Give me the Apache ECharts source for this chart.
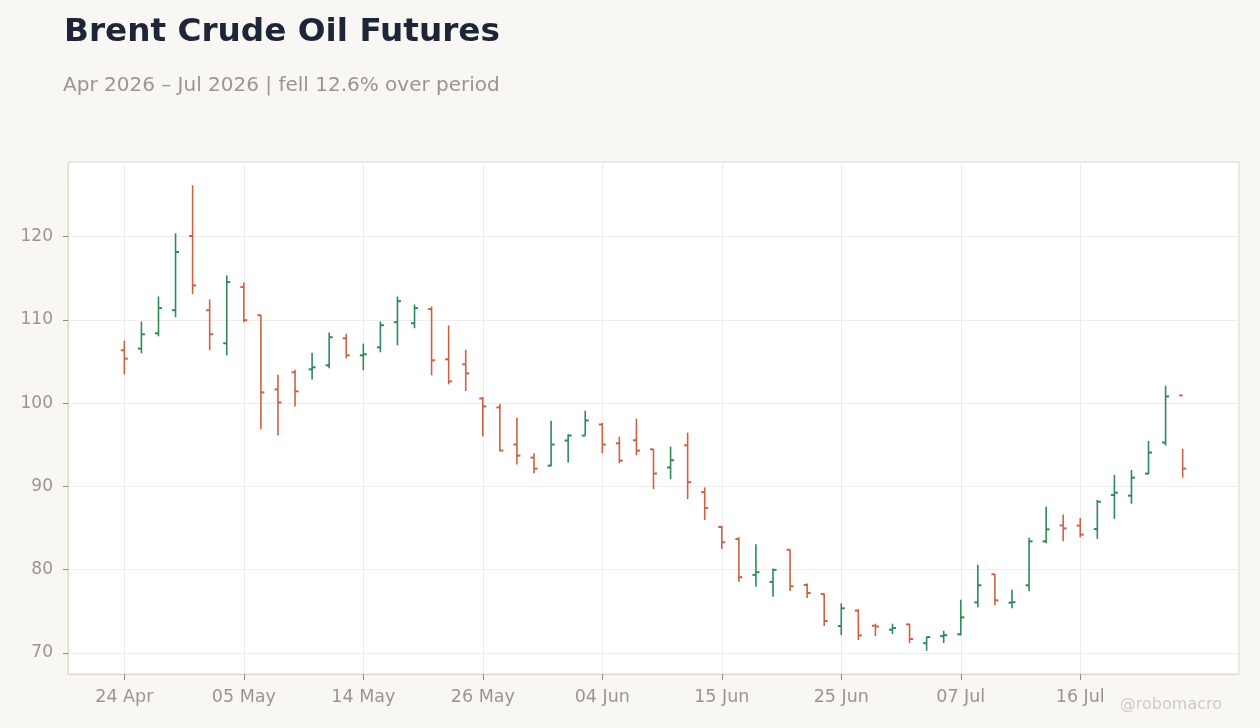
<!DOCTYPE html>
<html>
<head>
<meta charset="utf-8">
<script src="https://cdn.jsdelivr.net/npm/echarts@6.0.0/dist/echarts.min.js"></script>
<style>
  html, body { margin: 0; padding: 0; background: #f8f7f4; }
  #chart { width: 1260px; height: 728px; }
</style>
</head>
<body>
<div id="chart"></div>
<script>
// trading days
const dates = [
  '24 Apr', '27 Apr', '28 Apr', '29 Apr', '30 Apr', '01 May', '04 May',
  '05 May', '06 May', '07 May', '08 May', '11 May', '12 May', '13 May',
  '14 May', '15 May', '18 May', '19 May', '20 May', '21 May', '22 May',
  '26 May', '27 May', '28 May', '29 May', '01 Jun', '02 Jun', '03 Jun',
  '04 Jun', '05 Jun', '08 Jun', '09 Jun', '10 Jun', '11 Jun', '12 Jun',
  '15 Jun', '16 Jun', '17 Jun', '18 Jun', '22 Jun', '23 Jun', '24 Jun',
  '25 Jun', '26 Jun', '29 Jun', '30 Jun', '01 Jul', '02 Jul', '06 Jul',
  '07 Jul', '08 Jul', '09 Jul', '10 Jul', '13 Jul', '14 Jul', '15 Jul',
  '16 Jul', '17 Jul', '20 Jul', '21 Jul', '22 Jul', '23 Jul', '24 Jul'
];

const opens = [
  106.35, 106.55, 108.39, 111.16, 120.08, 111.16, 107.19,
  113.94, 110.56, 101.65, 103.70, 104.06, 104.54, 107.79,
  105.74, 106.70, 109.72, 109.60, 111.29, 105.26, 104.66,
  100.56, 99.48, 95.02, 93.45, 92.49, 95.50, 96.10,
  97.43, 95.17, 95.53, 94.45, 92.26, 94.93, 89.30,
  85.11, 83.67, 79.36, 78.52, 82.37, 78.15, 77.07,
  73.21, 75.06, 73.25, 72.77, 73.41, 71.16, 72.00,
  72.22, 76.06, 79.43, 76.02, 78.11, 83.39, 85.31,
  85.28, 84.86, 88.96, 88.88, 91.53, 95.26, 100.92
];
const highs = [
  107.50, 109.80, 112.81, 120.40, 126.18, 112.45, 115.34,
  114.50, 110.60, 103.41, 104.00, 106.06, 108.47, 108.35,
  107.15, 109.80, 112.81, 111.85, 111.61, 109.32, 106.43,
  100.72, 99.88, 98.23, 93.98, 97.87, 96.27, 99.08,
  97.63, 95.97, 98.12, 94.49, 94.77, 96.45, 89.86,
  85.27, 83.87, 83.03, 80.12, 82.41, 78.31, 77.11,
  75.94, 75.22, 73.49, 73.49, 73.49, 71.93, 72.64,
  76.38, 80.59, 79.47, 77.58, 83.83, 87.56, 86.60,
  86.20, 88.35, 91.37, 91.97, 95.46, 102.09, 94.50
];
const lows = [
  103.45, 105.98, 108.03, 110.32, 113.09, 106.35, 105.74,
  109.72, 96.85, 96.10, 99.60, 102.85, 104.18, 105.38,
  103.94, 106.10, 106.95, 109.00, 103.33, 102.25, 101.45,
  95.98, 94.22, 92.61, 91.57, 92.41, 92.85, 96.10,
  93.98, 92.77, 93.73, 89.66, 90.86, 88.46, 85.95,
  82.47, 78.52, 77.92, 76.72, 77.43, 76.59, 73.21,
  72.13, 71.53, 72.01, 72.25, 71.16, 70.24, 71.17,
  72.10, 75.46, 75.70, 75.34, 77.38, 83.15, 83.39,
  83.86, 83.69, 86.10, 87.91, 91.45, 94.90, 91.04
];
const closes = [
  105.34, 108.27, 111.41, 118.15, 114.14, 108.27, 114.54,
  109.96, 101.29, 100.08, 101.41, 104.30, 107.91, 105.74,
  105.86, 109.36, 112.25, 111.41, 105.14, 102.61, 103.57,
  99.60, 94.30, 93.69, 92.13, 95.02, 96.10, 97.91,
  95.02, 93.09, 94.29, 91.54, 93.13, 90.50, 87.39,
  83.27, 79.08, 79.68, 79.96, 77.99, 77.19, 73.82,
  75.34, 72.09, 73.15, 72.97, 71.65, 71.89, 72.12,
  74.26, 78.11, 76.30, 76.08, 83.39, 84.83, 84.95,
  84.20, 88.15, 89.24, 91.04, 94.06, 100.80, 92.13
];

const xTickIdx = [0, 7, 14, 21, 28, 35, 42, 49, 56];
const yTicks = [70, 80, 90, 100, 110, 120];

const UP = '#2e8a56';
const DOWN = '#cc6243';
const FONT = 'DejaVu Sans';
const LABEL = '#9b958e';

const ohlc = dates.map((d, i) => [i, opens[i], highs[i], lows[i], closes[i]]);

function renderBar(params, api) {
  const i = api.value(0);
  const o = api.coord([i, api.value(1)]);
  const h = api.coord([i, api.value(2)]);
  const l = api.coord([i, api.value(3)]);
  const c = api.coord([i, api.value(4)]);
  const color = api.value(4) >= api.value(1) ? UP : DOWN;
  const tick = 3.5;
  return {
    type: 'group',
    children: [
      { type: 'line', shape: { x1: h[0], y1: h[1], x2: l[0], y2: l[1] },
        style: { stroke: color, lineWidth: 1.6 } },
      { type: 'line', shape: { x1: o[0] - tick, y1: o[1], x2: o[0], y2: o[1] },
        style: { stroke: color, lineWidth: 2 } },
      { type: 'line', shape: { x1: c[0], y1: c[1], x2: c[0] + tick, y2: c[1] },
        style: { stroke: color, lineWidth: 2 } }
    ]
  };
}

const chart = echarts.init(document.getElementById('chart'));
chart.setOption({
  animation: false,
  backgroundColor: '#f8f7f4',
  textStyle: { fontFamily: FONT },
  title: [
    {
      text: 'Brent Crude Oil Futures',
      left: 64, top: 16, padding: 0,
      textStyle: { fontFamily: FONT, fontSize: 32.7, fontWeight: 'bold', color: '#1d2536' }
    },
    {
      text: 'Apr 2026 – Jul 2026 | fell 12.6% over period',
      left: 63, top: 76, padding: 0,
      textStyle: { fontFamily: FONT, fontSize: 20, fontWeight: 'normal', color: '#9b958e' }
    }
  ],
  graphic: [
    {
      type: 'text', right: 38, top: 697,
      style: { text: '@robomacro', fill: '#cfcac4', font: '16px "DejaVu Sans"' }
    }
  ],
  grid: {
    left: 68, right: 21, top: 162, bottom: 54,
    show: true, backgroundColor: '#ffffff',
    borderColor: '#ddd8d0', borderWidth: 1
  },
  xAxis: {
    type: 'value',
    min: -3.3, max: 65.3,
    axisLine: { show: true, onZero: false, lineStyle: { color: '#ddd8d0' } },
    axisTick: { show: true, length: 6, customValues: xTickIdx, lineStyle: { color: '#8f8a84' } },
    axisLabel: {
      customValues: xTickIdx,
      formatter: v => dates[v] || '',
      color: LABEL, fontSize: 17.5, fontFamily: FONT, margin: 14
    },
    splitLine: { show: true, lineStyle: { color: '#efedeb', width: 1 } }
  },
  yAxis: {
    type: 'value',
    min: 67.45, max: 128.97,
    axisLine: { show: true, onZero: false, lineStyle: { color: '#ddd8d0' } },
    axisTick: { show: true, length: 5, customValues: yTicks, lineStyle: { color: '#8f8a84' } },
    axisLabel: {
      customValues: yTicks,
      color: LABEL, fontSize: 17, fontFamily: FONT, margin: 15
    },
    splitLine: { show: true, lineStyle: { color: '#efedeb', width: 1 } }
  },
  series: [
    {
      type: 'custom',
      renderItem: renderBar,
      data: ohlc,
      encode: { x: 0, y: [1, 2, 3, 4] },
      clip: true
    }
  ]
});
</script>
</body>
</html>
